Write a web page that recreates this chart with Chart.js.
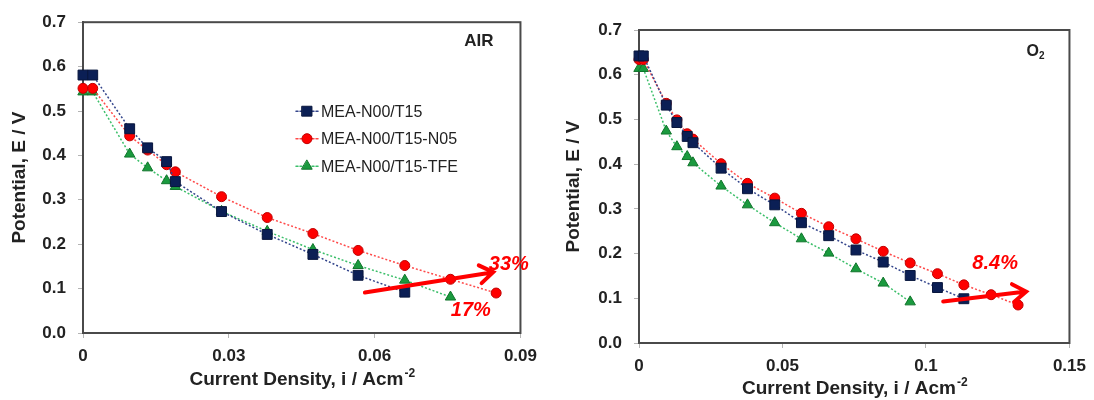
<!DOCTYPE html>
<html>
<head>
<meta charset="utf-8">
<title>Polarization curves - AIR / O2</title>
<script src="https://cdn.jsdelivr.net/npm/chart.js@4.4.1/dist/chart.umd.min.js"></script>
<style>
   html, body { margin: 0; padding: 0; background: #fff; }
   #air-div { position: absolute; left: 0; top: 0; width: 545px; height: 400px; }
   #o2-div { position: absolute; left: 553px; top: 0; width: 541px; height: 400px; }
</style>
</head>
<body>
<div id="air-div"><canvas id="airChart"></canvas></div>
<div id="o2-div"><canvas id="o2Chart"></canvas></div>
<script>
// #region Data
const seriesNames = ['MEA-N00/T15', 'MEA-N00/T15-N05', 'MEA-N00/T15-TFE'];

// AIR cathode feed, current density in A/cm2, potential in V
const airCurrent = [0, 0.002, 0.0096, 0.0133, 0.0172, 0.019, 0.0285, 0.0379, 0.0473, 0.0566, 0.0662, 0.0756, 0.085];
const airT15 = [0.581, 0.581, 0.46, 0.417, 0.386, 0.341, 0.2735, 0.222, 0.177, 0.130, 0.092];
const airN05 = [0.551, 0.551, 0.444, 0.412, 0.379, 0.363, 0.307, 0.260, 0.224, 0.186, 0.152, 0.121, 0.090];
const airTFE = [0.543, 0.543, 0.403, 0.372, 0.343, 0.330, 0.274, 0.229, 0.188, 0.152, 0.119, 0.081];

// O2 cathode feed
const o2Current = [0, 0.0015, 0.0095, 0.0132, 0.0168, 0.0188, 0.0286, 0.0378, 0.0473, 0.0566, 0.0661, 0.0756, 0.0851, 0.0945, 0.104, 0.1132, 0.1227, 0.1321];
const o2T15 = [0.642, 0.642, 0.532, 0.493, 0.462, 0.448, 0.391, 0.345, 0.309, 0.269, 0.240, 0.208, 0.181, 0.151, 0.124, 0.099];
const o2N05 = [0.634, 0.634, 0.536, 0.499, 0.468, 0.456, 0.401, 0.357, 0.324, 0.290, 0.260, 0.233, 0.205, 0.179, 0.155, 0.130, 0.108, 0.085];
const o2TFE = [0.614, 0.614, 0.474, 0.439, 0.417, 0.403, 0.351, 0.309, 0.269, 0.233, 0.201, 0.166, 0.134, 0.092];

// Axis ticks
const yTicks = [0, 0.1, 0.2, 0.3, 0.4, 0.5, 0.6, 0.7];
const yLabels = ['0.0', '0.1', '0.2', '0.3', '0.4', '0.5', '0.6', '0.7'];
const airXTicks = [0, 0.03, 0.06, 0.09];
const airXLabels = ['0', '0.03', '0.06', '0.09'];
const o2XTicks = [0, 0.05, 0.1, 0.15];
const o2XLabels = ['0', '0.05', '0.1', '0.15'];

// Improvement arrows [x0, y0, x1, y1] and their labels [text, x, y]
const airArrow = [0.058, 0.091, 0.0844, 0.137];
const airNotes = [['33%', 0.0876, 0.155], ['17%', 0.0798, 0.0516]];
const o2Arrow = [0.106, 0.093, 0.1349, 0.115];
const o2Notes = [['8.4%', 0.1241, 0.177]];
// #endregion

const FONT = 'Liberation Sans, Arial, sans-serif';
const TEXT_COLOR = '#222';
const NOTE_RED = '#ff0000';

const SeriesStyle = [
   { line: '#34468c', fill: '#0b1f55', edge: '#08163d', shape: 'rect', radius: 7 },
   { line: '#ff4a4a', fill: '#ff0000', edge: '#c00000', shape: 'circle', radius: 5 },
   { line: '#3cbf6a', fill: '#1a9a3e', edge: '#11752c', shape: 'triangle', radius: 6 }
];

function toPoints(xs, ys) {
   return ys.map((y, i) => ({ x: xs[i], y: y }));
}

function buildDatasets(xs, seriesList) {
   return seriesList.map((ys, i) => {
      let st = SeriesStyle[i];
      return {
         label: seriesNames[i],
         data: toPoints(xs, ys),
         borderColor: st.line,
         borderWidth: 1.5,
         borderDash: [2, 2],
         pointStyle: st.shape,
         pointRadius: st.radius,
         pointHoverRadius: st.radius,
         pointBackgroundColor: st.fill,
         pointBorderColor: st.edge,
         pointBorderWidth: 1,
         tension: 0,
         fill: false,
         clip: false
      };
   });
}

// ***********************
// Name:    drawMarker
// Purpose: Draws one legend marker in the shape used by the series
// *************************
function drawMarker(ctx, st, x, y) {
   ctx.beginPath();
   if (st.shape === 'rect') {
      let s = st.radius * Math.SQRT1_2;
      ctx.rect(x - s, y - s, 2 * s, 2 * s);
   }
   else if (st.shape === 'circle') {
      ctx.arc(x, y, st.radius, 0, Math.PI * 2);
   }
   else {
      let r = st.radius;
      ctx.moveTo(x, y - r);
      ctx.lineTo(x + r * 0.866, y + r * 0.5);
      ctx.lineTo(x - r * 0.866, y + r * 0.5);
      ctx.closePath();
   }
   ctx.fillStyle = st.fill;
   ctx.fill();
   ctx.lineWidth = 1;
   ctx.strokeStyle = st.edge;
   ctx.stroke();
}

// Box around the plot area (top and right edges included)
const framePlugin = {
   id: 'frame',
   beforeDatasetsDraw(chart) {
      const a = chart.chartArea;
      const ctx = chart.ctx;
      ctx.save();
      ctx.strokeStyle = '#4a4a4a';
      ctx.lineWidth = 2;
      ctx.strokeRect(a.left, a.top, a.right - a.left, a.bottom - a.top);
      ctx.restore();
   }
};

// Arrow, percent labels, panel tag, legend and the x axis title with superscript
const notesPlugin = {
   id: 'notes',
   afterDatasetsDraw(chart, args, opts) {
      const ctx = chart.ctx;
      const xs = chart.scales.x;
      const ys = chart.scales.y;
      const a = chart.chartArea;
      ctx.save();

      // arrow
      let x0 = xs.getPixelForValue(opts.arrow[0]), y0 = ys.getPixelForValue(opts.arrow[1]);
      let x1 = xs.getPixelForValue(opts.arrow[2]), y1 = ys.getPixelForValue(opts.arrow[3]);
      let ang = Math.atan2(y1 - y0, x1 - x0);
      ctx.strokeStyle = NOTE_RED;
      ctx.lineWidth = 4;
      ctx.lineCap = 'round';
      ctx.beginPath();
      ctx.moveTo(x0, y0);
      ctx.lineTo(x1, y1);
      ctx.moveTo(x1 - 16 * Math.cos(ang - 0.6), y1 - 16 * Math.sin(ang - 0.6));
      ctx.lineTo(x1, y1);
      ctx.lineTo(x1 - 16 * Math.cos(ang + 0.6), y1 - 16 * Math.sin(ang + 0.6));
      ctx.stroke();

      // percent labels
      ctx.fillStyle = NOTE_RED;
      ctx.font = `italic bold 20px ${FONT}`;
      ctx.textAlign = 'center';
      ctx.textBaseline = 'middle';
      opts.notes.forEach(n => {
         ctx.fillText(n[0], xs.getPixelForValue(n[1]), ys.getPixelForValue(n[2]));
      });

      // panel tag
      ctx.fillStyle = TEXT_COLOR;
      ctx.textAlign = 'right';
      if (opts.tagSub) {
         ctx.font = `bold 10px ${FONT}`;
         let subW = ctx.measureText(opts.tagSub).width;
         ctx.fillText(opts.tagSub, a.right - opts.tagRight, a.top + opts.tagTop + 4);
         ctx.font = `bold 16px ${FONT}`;
         ctx.fillText(opts.tag, a.right - opts.tagRight - subW, a.top + opts.tagTop);
      }
      else {
         ctx.font = `bold 17px ${FONT}`;
         ctx.fillText(opts.tag, a.right - opts.tagRight, a.top + opts.tagTop);
      }

      // legend
      if (opts.legend) {
         ctx.font = `16px ${FONT}`;
         ctx.textAlign = 'left';
         chart.data.datasets.forEach((ds, i) => {
            let st = SeriesStyle[i];
            let cx = a.left + opts.legend.x;
            let cy = a.top + opts.legend.y + i * opts.legend.gap;
            ctx.strokeStyle = st.line;
            ctx.lineWidth = 1.5;
            ctx.setLineDash([2, 2]);
            ctx.beginPath();
            ctx.moveTo(cx - 11, cy);
            ctx.lineTo(cx + 11, cy);
            ctx.stroke();
            ctx.setLineDash([]);
            drawMarker(ctx, st, cx, cy);
            ctx.fillStyle = TEXT_COLOR;
            ctx.fillText(ds.label, cx + 14, cy + 1);
         });
      }

      // x axis title
      let main = 'Current Density, i / Acm';
      let sup = '-2';
      ctx.fillStyle = TEXT_COLOR;
      ctx.textAlign = 'left';
      ctx.font = `bold 19px ${FONT}`;
      let mainW = ctx.measureText(main).width;
      ctx.font = `bold 12px ${FONT}`;
      let supW = ctx.measureText(sup).width;
      let startX = (a.left + a.right) / 2 - (mainW + supW) / 2;
      ctx.font = `bold 19px ${FONT}`;
      ctx.fillText(main, startX, opts.xTitleY);
      ctx.font = `bold 12px ${FONT}`;
      ctx.fillText(sup, startX + mainW + 1, opts.xTitleY - 6);

      ctx.restore();
   }
};

// ***********************
// Name:    buildPanel
// Purpose: Creates one polarization chart panel
// *************************
function buildPanel(canvasId, p) {
   const tickFont = { family: FONT, size: 17, weight: 'bold' };
   const config = {
      type: 'line',
      data: { datasets: buildDatasets(p.current, p.series) },
      options: {
         responsive: true,
         maintainAspectRatio: false,
         animation: false,
         layout: { padding: { top: p.top, right: p.right, bottom: 0, left: 0 } },
         plugins: {
            legend: { display: false },
            tooltip: { enabled: false },
            notes: p.notes
         },
         scales: {
            x: {
               type: 'linear',
               min: 0,
               max: p.xTicks[p.xTicks.length - 1],
               afterBuildTicks: s => { s.ticks = p.xTicks.map(v => ({ value: v })); },
               afterFit: s => { s.height = p.xAxisHeight; },
               ticks: {
                  callback: (v, i) => p.xLabels[i],
                  font: tickFont,
                  color: TEXT_COLOR,
                  padding: 8,
                  maxRotation: 0,
                  autoSkip: false
               },
               grid: { drawOnChartArea: false, drawTicks: true, tickLength: 5, color: '#b4b4b4' },
               border: { display: true, color: '#5a5a5a', width: 2 }
            },
            y: {
               type: 'linear',
               min: 0,
               max: 0.7,
               afterBuildTicks: s => { s.ticks = yTicks.map(v => ({ value: v })); },
               afterFit: s => { s.width = p.yAxisWidth; },
               ticks: {
                  callback: (v, i) => yLabels[i],
                  font: tickFont,
                  color: TEXT_COLOR,
                  padding: 12,
                  autoSkip: false
               },
               grid: { drawOnChartArea: false, drawTicks: true, tickLength: 5, color: '#b4b4b4' },
               border: { display: true, color: '#5a5a5a', width: 2 },
               title: {
                  display: true,
                  text: 'Potential, E / V',
                  color: TEXT_COLOR,
                  font: { family: FONT, size: 19, weight: 'bold' },
                  padding: { top: p.yTitlePad, bottom: 0 }
               }
            }
         }
      },
      plugins: [framePlugin, notesPlugin]
   };
   return new Chart(document.getElementById(canvasId), config);
}

const airChart = buildPanel('airChart', {
   current: airCurrent,
   series: [airT15, airN05, airTFE],
   xTicks: airXTicks,
   xLabels: airXLabels,
   top: 21, right: 22, yAxisWidth: 83, xAxisHeight: 67, yTitlePad: 8,
   notes: {
      arrow: airArrow, notes: airNotes,
      tag: 'AIR', tagRight: 27, tagTop: 19,
      legend: { x: 224, y: 89, gap: 27.5 },
      xTitleY: 380
   }
});

const o2Chart = buildPanel('o2Chart', {
   current: o2Current,
   series: [o2T15, o2N05, o2TFE],
   xTicks: o2XTicks,
   xLabels: o2XLabels,
   top: 30, right: 19, yAxisWidth: 86, xAxisHeight: 57, yTitlePad: 9,
   notes: {
      arrow: o2Arrow, notes: o2Notes,
      tag: 'O', tagSub: '2', tagRight: 25, tagTop: 22,
      legend: null,
      xTitleY: 389
   }
});
</script>
</body>
</html>
